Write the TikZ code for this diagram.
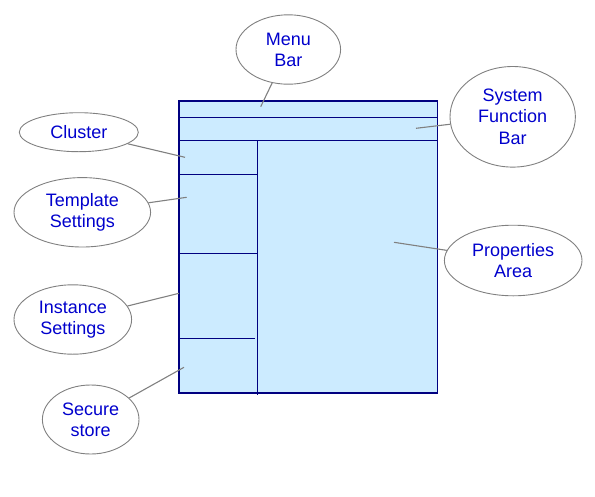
\documentclass[tikz,border=0pt]{standalone}
\usepackage{fontspec}
\setmainfont{Liberation Sans}
\usetikzlibrary{shapes.geometric}
\definecolor{boxfill}{RGB}{204,235,255}
\definecolor{boxline}{RGB}{0,0,128}
\definecolor{txtblue}{RGB}{0,0,204}
\definecolor{callgray}{RGB}{128,128,128}
\tikzset{
  callout/.style={ellipse, draw=callgray, line width=0.9pt, inner sep=0pt,
    minimum width=2*#1, text=txtblue, align=center,
    font=\fontsize{18}{21.2}\selectfont},
  lead/.style={draw=callgray, line width=1.1pt},
  part/.style={draw=boxline, line width=1.3pt}
}
\begin{document}
\begin{tikzpicture}[x=1pt,y=-1pt]
\useasboundingbox (0,0) rectangle (595,496);
% main box
\fill[boxfill] (178.3,100.3) rectangle (436.7,392.3);
\node[part, minimum width=258.4pt, minimum height=292pt, inner sep=0pt, anchor=north west] (frame) at (178.3,100.3) {};
\draw[part] (178.3,117.3) -- (436.7,117.3);
\draw[part] (178.3,140.3) -- (436.7,140.3);
\draw[part] (257.3,140.3) -- (257.3,394.5);
\draw[part] (178.3,174.3) -- (257.3,174.3);
\draw[part] (178.3,253.3) -- (257.3,253.3);
\draw[part] (178.3,338.3) -- (255.3,338.3);
% callouts
\node[callout=52.3pt, minimum height=69.4pt] (menu) at (288.3,49.5) {Menu\\Bar};
\node[callout=62.7pt, minimum height=100.6pt] (sysf) at (512.7,116.8) {System\\Function\\Bar};
\node[callout=68.8pt, minimum height=70.6pt] (prop) at (513.2,260.5) {Properties\\Area};
\node[callout=59.5pt, minimum height=39pt] (clus) at (78.8,132.2) {Cluster};
\node[callout=68.3pt, minimum height=69.4pt] (tmpl) at (82.3,212.3) {Template\\Settings};
\node[callout=58.8pt, minimum height=69.4pt] (inst) at (72.8,319.5) {Instance\\Settings};
\node[callout=48.3pt, minimum height=69pt] (secu) at (90.7,419.5) {Secure\\store};
% leader ends
\coordinate (pmenu) at (260.7,106.7);
\coordinate (psysf) at (416,128.3);
\coordinate (pprop) at (394,242.3);
\coordinate (pclus) at (185,157.3);
\coordinate (ptmpl) at (186.7,197.3);
\coordinate (pinst) at (179,293.3);
\coordinate (psecu) at (184,367.3);
\draw[lead] (menu) -- (pmenu);
\draw[lead] (sysf) -- (psysf);
\draw[lead] (prop) -- (pprop);
\draw[lead] (clus) -- (pclus);
\draw[lead] (tmpl) -- (ptmpl);
\draw[lead] (inst) -- (pinst);
\draw[lead] (secu) -- (psecu);
\end{tikzpicture}
\end{document}
